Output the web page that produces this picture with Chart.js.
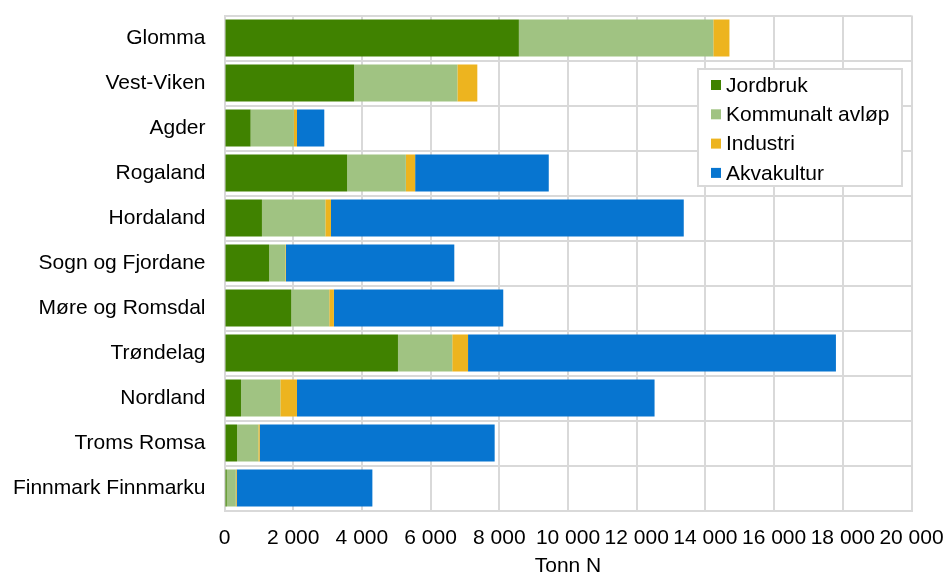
<!DOCTYPE html>
<html>
<head>
<meta charset="utf-8">
<script src="https://cdn.jsdelivr.net/npm/chart.js@4"></script>
<style>
  html, body { margin: 0; padding: 0; background: #fff; }
  #wrap { width: 949px; height: 575px; }
</style>
</head>
<body>
<div id="wrap"><canvas id="myChart"></canvas></div>
<script>
var categories = ["Glomma", "Vest-Viken", "Agder", "Rogaland", "Hordaland", "Sogn og Fjordane",
  "Møre og Romsdal", "Trøndelag", "Nordland", "Troms Romsa", "Finnmark Finnmarku"];

var jordbruk   = [8570, 3770,  760, 3570,  1090, 1300, 1945,  5050,   480,  365,   65];
var kommunalt  = [5660, 3010, 1260, 1710,  1845,  470, 1105,  1580,  1145,  620,  265];
var industri   = [ 470,  580,   90,  270,   165,   20,  135,   460,   485,   40,   25];
var akvakultur = [   0,    0,  795, 3890, 10270, 4900, 4930, 10710, 10410, 6840, 3950];

var xMin = 0, xMax = 20000, xStep = 2000;

var font = { family: "'Liberation Sans', Arial, sans-serif", size: 21 };
var axisFont = { family: "'Liberation Sans', Arial, sans-serif", size: 21, lineHeight: 1 };

function fmt(v) {
  return String(v).replace(/\B(?=(\d{3})+(?!\d))/g, ' ');
}

// legend box drawn inside the plot, top right
var boxLegend = {
  id: 'boxLegend',
  afterDraw: function (chart) {
    var c = chart.ctx;
    var x = 698, y = 69, w = 204, h = 117;
    c.save();
    c.fillStyle = '#fff';
    c.fillRect(x, y, w, h);
    c.strokeStyle = '#d9d9d9';
    c.lineWidth = 2;
    c.strokeRect(x, y, w, h);
    c.font = font.size + 'px ' + font.family;
    c.textBaseline = 'middle';
    chart.data.datasets.forEach(function (ds, i) {
      var cy = 85 + i * 29.3;
      c.fillStyle = ds.backgroundColor;
      c.fillRect(711, cy - 5, 10, 10);
      c.fillStyle = '#000';
      c.fillText(ds.label, 726, cy + 1);
    });
    c.restore();
  }
};

var ctx = document.getElementById('myChart');

new Chart(ctx, {
  type: 'bar',
  data: {
    labels: categories,
    datasets: [
      { label: 'Jordbruk', data: jordbruk, backgroundColor: '#408200' },
      { label: 'Kommunalt avløp', data: kommunalt, backgroundColor: '#a0c382' },
      { label: 'Industri', data: industri, backgroundColor: '#edb41f' },
      { label: 'Akvakultur', data: akvakultur, backgroundColor: '#0775d0' }
    ]
  },
  options: {
    indexAxis: 'y',
    responsive: true,
    maintainAspectRatio: false,
    animation: false,
    datasets: {
      bar: { categoryPercentage: 1, barPercentage: 0.82, borderWidth: 0 }
    },
    layout: { padding: { top: 15.5, right: 37.5, left: 0, bottom: 0 } },
    plugins: {
      legend: { display: false },
      tooltip: { enabled: false }
    },
    scales: {
      x: {
        stacked: true,
        min: xMin,
        max: xMax,
        afterFit: function (s) {
          s.height = 64.5;
          s.paddingLeft = 0;
          s.paddingRight = 0;
        },
        ticks: {
          stepSize: xStep,
          color: '#000',
          font: axisFont,
          padding: 17.5,
          maxRotation: 0,
          autoSkip: false,
          callback: function (v) { return fmt(v); }
        },
        grid: { color: '#d9d9d9', lineWidth: 2, drawTicks: false },
        border: { color: '#d9d9d9', width: 2 },
        title: {
          display: true,
          text: 'Tonn N',
          color: '#000',
          font: axisFont,
          padding: { top: 0, bottom: -2 }
        }
      },
      y: {
        stacked: true,
        afterFit: function (s) {
          s.width = 224.5;
          s.paddingTop = 0;
          s.paddingBottom = 0;
        },
        ticks: { color: '#000', font: font, padding: 19, autoSkip: false },
        grid: { color: '#d9d9d9', lineWidth: 2, drawTicks: false },
        border: { color: '#d9d9d9', width: 2 }
      }
    }
  },
  plugins: [boxLegend]
});
</script>
</body>
</html>
